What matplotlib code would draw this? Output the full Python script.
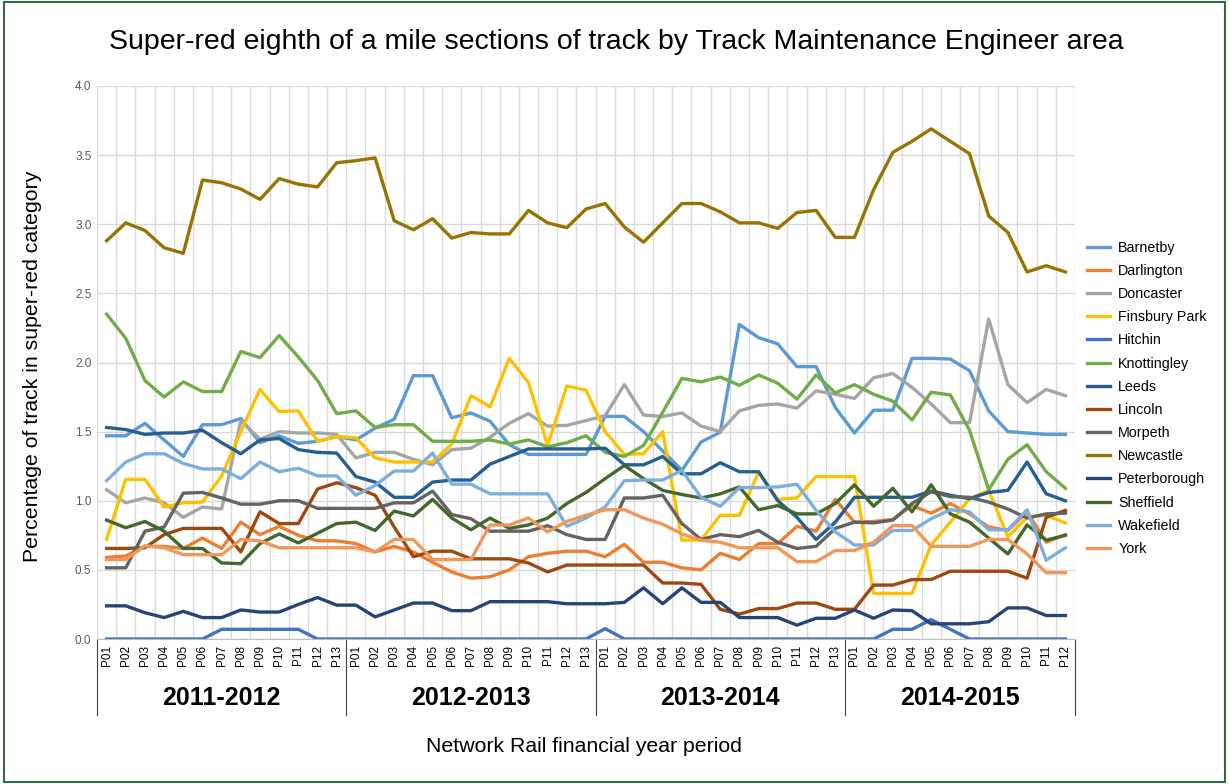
import matplotlib
matplotlib.use("Agg")
import matplotlib.pyplot as plt
from matplotlib.patches import Rectangle

plt.rcParams['font.family'] = ['Liberation Sans', 'DejaVu Sans']

years = ["2011-2012", "2012-2013", "2013-2014", "2014-2015"]
periods_per_year = [13, 13, 13, 12]
tick_labels = []
for n in periods_per_year:
    tick_labels += ["P%02d" % (k + 1) for k in range(n)]

barnetby = [1.47,1.47,1.56,1.44,1.32,1.55,1.55,1.595,1.42,1.47,1.415,1.43,1.465,
            1.44,1.525,1.59,1.905,1.905,1.60,1.635,1.575,1.405,1.335,1.335,1.335,1.335,
            1.61,1.61,1.50,1.36,1.22,1.425,1.495,2.275,2.18,2.135,1.97,1.97,1.675,
            1.49,1.655,1.655,2.03,2.03,2.025,1.94,1.65,1.50,1.49,1.48,1.48]
darlington = [0.59,0.60,0.67,0.67,0.655,0.73,0.655,0.845,0.755,0.815,0.75,0.71,0.71,
              0.69,0.63,0.67,0.63,0.555,0.485,0.44,0.45,0.50,0.595,0.62,0.635,0.635,
              0.595,0.685,0.555,0.555,0.515,0.50,0.62,0.575,0.69,0.69,0.815,0.78,1.01,
              0.845,0.85,0.865,0.965,0.91,0.98,0.905,0.81,0.785,0.92,0.70,0.755]
doncaster = [1.08,0.985,1.02,0.985,0.88,0.955,0.94,1.58,1.445,1.50,1.49,1.49,1.48,
             1.31,1.35,1.35,1.30,1.26,1.37,1.38,1.46,1.56,1.63,1.54,1.545,1.58,
             1.615,1.84,1.62,1.61,1.635,1.54,1.50,1.65,1.69,1.70,1.67,1.795,1.77,
             1.74,1.89,1.92,1.82,1.70,1.565,1.565,2.315,1.84,1.71,1.805,1.76]
finsbury_park = [0.72,1.155,1.155,0.955,0.985,0.99,1.18,1.50,1.805,1.645,1.65,1.43,1.465,
                 1.455,1.31,1.28,1.28,1.28,1.41,1.76,1.68,2.03,1.855,1.40,1.83,1.80,
                 1.50,1.335,1.34,1.50,0.715,0.715,0.895,0.895,1.205,1.01,1.02,1.175,1.175,
                 1.175,0.33,0.33,0.33,0.68,0.845,1.015,1.075,0.74,0.88,0.895,0.84]
hitchin = [0,0,0,0,0,0,0.07,0.07,0.07,0.07,0.07,0,0,
           0,0,0,0,0,0,0,0,0,0,0,0,0,
           0.075,0,0,0,0,0,0,0,0,0,0,0,0,
           0,0,0.07,0.07,0.14,0.07,0,0,0,0,0,0]
knottingley = [2.35,2.175,1.87,1.75,1.86,1.79,1.79,2.08,2.035,2.195,2.04,1.87,1.63,
               1.65,1.53,1.55,1.55,1.43,1.43,1.43,1.44,1.41,1.44,1.39,1.42,1.47,
               1.35,1.32,1.40,1.64,1.885,1.86,1.895,1.835,1.91,1.85,1.735,1.91,1.78,
               1.84,1.77,1.72,1.585,1.785,1.765,1.51,1.08,1.30,1.405,1.21,1.09]
leeds = [1.53,1.515,1.48,1.49,1.49,1.51,1.42,1.34,1.44,1.45,1.37,1.35,1.345,
         1.175,1.135,1.025,1.025,1.135,1.15,1.15,1.265,1.32,1.375,1.375,1.375,1.375,
         1.38,1.26,1.26,1.32,1.195,1.195,1.275,1.21,1.21,1.00,0.88,0.72,0.845,
         1.025,1.025,1.025,1.025,1.07,1.04,1.015,1.06,1.075,1.28,1.05,1.00]
lincoln = [0.655,0.655,0.66,0.755,0.80,0.80,0.80,0.63,0.92,0.835,0.835,1.085,1.13,
           1.095,1.04,0.81,0.595,0.635,0.635,0.58,0.58,0.58,0.55,0.485,0.535,0.535,
           0.535,0.535,0.535,0.405,0.405,0.395,0.215,0.18,0.22,0.22,0.26,0.26,0.215,
           0.215,0.39,0.39,0.43,0.43,0.49,0.49,0.49,0.49,0.44,0.88,0.93]
morpeth = [0.515,0.515,0.78,0.81,1.055,1.06,1.02,0.975,0.975,1.00,1.00,0.945,0.945,
           0.945,0.945,0.985,0.985,1.07,0.90,0.87,0.78,0.78,0.78,0.82,0.755,0.72,
           0.72,1.02,1.02,1.04,0.835,0.72,0.755,0.74,0.785,0.70,0.655,0.67,0.80,
           0.845,0.84,0.86,0.98,1.065,1.03,1.025,0.99,0.94,0.875,0.905,0.91]
newcastle = [2.88,3.01,2.955,2.83,2.79,3.32,3.30,3.255,3.18,3.33,3.29,3.27,3.445,
             3.46,3.48,3.025,2.96,3.04,2.90,2.94,2.93,2.93,3.10,3.01,2.975,3.11,
             3.15,2.98,2.87,3.01,3.15,3.15,3.09,3.01,3.01,2.97,3.085,3.10,2.905,
             2.905,3.25,3.52,3.60,3.69,3.60,3.51,3.06,2.94,2.655,2.70,2.655]
peterborough = [0.24,0.24,0.19,0.155,0.20,0.155,0.155,0.21,0.195,0.195,0.25,0.30,0.245,
                0.245,0.16,0.21,0.26,0.26,0.205,0.205,0.27,0.27,0.27,0.27,0.255,0.255,
                0.255,0.265,0.37,0.255,0.37,0.265,0.265,0.155,0.155,0.155,0.10,0.15,0.15,
                0.21,0.15,0.21,0.205,0.11,0.11,0.11,0.125,0.225,0.225,0.17,0.17]
sheffield = [0.86,0.805,0.85,0.78,0.655,0.655,0.55,0.545,0.69,0.76,0.695,0.765,0.835,
             0.845,0.785,0.925,0.89,1.01,0.875,0.79,0.875,0.80,0.825,0.875,0.98,1.06,
             1.16,1.255,1.16,1.075,1.045,1.02,1.05,1.10,0.935,0.965,0.905,0.905,0.98,
             1.115,0.96,1.09,0.92,1.115,0.905,0.845,0.73,0.615,0.825,0.715,0.75]
wakefield = [1.145,1.28,1.34,1.34,1.27,1.23,1.23,1.16,1.28,1.21,1.235,1.18,1.18,
             1.04,1.11,1.215,1.215,1.345,1.12,1.12,1.05,1.05,1.05,1.05,0.815,0.875,
             0.955,1.145,1.15,1.15,1.22,1.025,0.96,1.095,1.095,1.10,1.12,0.93,0.775,
             0.68,0.68,0.785,0.785,0.87,0.935,0.92,0.79,0.79,0.935,0.57,0.66]
york = [0.575,0.575,0.675,0.66,0.61,0.61,0.61,0.72,0.71,0.66,0.66,0.66,0.66,
        0.66,0.63,0.72,0.72,0.575,0.575,0.575,0.825,0.825,0.875,0.775,0.85,0.895,
        0.935,0.935,0.875,0.83,0.76,0.715,0.70,0.66,0.66,0.66,0.56,0.56,0.64,
        0.64,0.70,0.82,0.82,0.67,0.67,0.67,0.72,0.72,0.615,0.48,0.48]

series_names = ["Barnetby", "Darlington", "Doncaster", "Finsbury Park", "Hitchin",
                "Knottingley", "Leeds", "Lincoln", "Morpeth", "Newcastle",
                "Peterborough", "Sheffield", "Wakefield", "York"]
series_values = [barnetby, darlington, doncaster, finsbury_park, hitchin,
                 knottingley, leeds, lincoln, morpeth, newcastle,
                 peterborough, sheffield, wakefield, york]
colors = ["#5B9BD5", "#ED7D31", "#A5A5A5", "#FFC000", "#4472C4",
          "#70AD47", "#255E91", "#9E480E", "#636363", "#997300",
          "#264478", "#43682B", "#7CAFDD", "#F1975A"]

fig = plt.figure(figsize=(12.29, 7.84), dpi=100)
fig.patches.append(Rectangle((0.003, 0.003), 0.994, 0.994, transform=fig.transFigure,
                             fill=False, edgecolor="#2E6B3F", linewidth=1.5))
ax = fig.add_axes([97/1229, 1 - 639/784, (1075-97)/1229, (639-86)/784])

x = list(range(len(tick_labels)))
for name, vals, c in zip(series_names, series_values, colors):
    ax.plot(x, vals, color=c, linewidth=2.4, label=name, solid_joinstyle='round')

ax.set_xlim(-0.5, len(tick_labels) - 0.5)
ax.set_ylim(0, 4.0)
ax.set_yticks([i * 0.5 for i in range(9)])
ax.set_yticklabels(["%.1f" % (i * 0.5) for i in range(9)], fontsize=8.5, color="#595959")
ax.set_xticks(x)
ax.set_xticklabels(tick_labels, rotation=90, fontsize=8.5, color="#000000")
ax.tick_params(axis='both', length=0, pad=4)
ax.set_xticks([i - 0.5 for i in range(len(tick_labels) + 1)], minor=True)
ax.grid(True, which='minor', axis='x', color="#D9D9D9", linewidth=1)
ax.grid(True, which='major', axis='y', color="#D9D9D9", linewidth=1)
ax.tick_params(axis='x', which='minor', length=0)
ax.set_axisbelow(True)
for s in ["top", "right", "left"]:
    ax.spines[s].set_visible(False)
ax.spines["bottom"].set_color("#BFBFBF")

# group separators and year labels
tr = ax.get_xaxis_transform()
start = 0
bounds = [-0.5]
for n in periods_per_year:
    bounds.append(start + n - 0.5)
    start += n
for b in bounds:
    ax.plot([b, b], [0, -0.137], transform=tr, color="#404040", linewidth=0.8, clip_on=False)
start = 0
for yr, n in zip(years, periods_per_year):
    ax.text(start + (n - 1) / 2, -0.107, yr, transform=tr, ha='center', va='center',
            fontsize=18, fontweight='bold')
    start += n

fig.text(616/1229, 1 - 42/784, "Super-red eighth of a mile sections of track by Track Maintenance Engineer area",
         ha='center', va='center', fontsize=20.5)
fig.text(584/1229, 1 - 747/784, "Network Rail financial year period", ha='center', va='center', fontsize=15.3)
fig.text(33/1229, 1 - 366/784, "Percentage of track in super-red category", ha='center', va='center',
         rotation=90, fontsize=15.3)

leg = ax.legend(loc='upper left', bbox_to_anchor=(1074/1229, 1 - 228/784), bbox_transform=fig.transFigure,
                frameon=False, fontsize=10.3, handlelength=1.6, labelspacing=0.64, handletextpad=0.6)

fig.savefig("out.png", dpi=100)
